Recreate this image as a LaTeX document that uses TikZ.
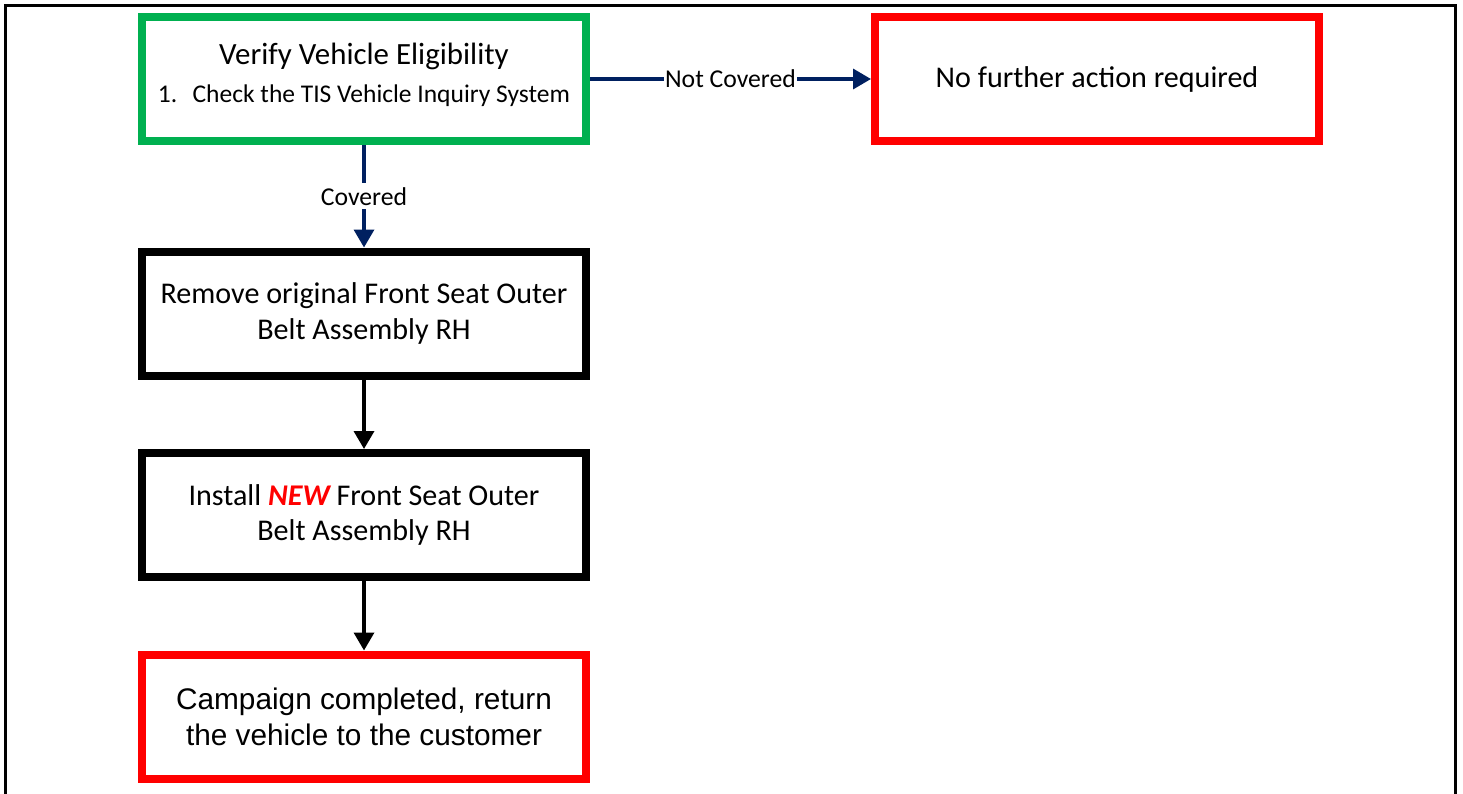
\documentclass[tikz,border=0pt]{standalone}
\usepackage{fontspec}
\setmainfont{Carlito}
\newfontfamily\arialfont{Liberation Sans}
\usetikzlibrary{arrows.meta}
\definecolor{navyc}{RGB}{0,32,96}
\definecolor{greenc}{RGB}{0,176,80}
\definecolor{redc}{RGB}{255,0,0}
\tikzset{
  flowbox/.style={draw, line width=8bp, fill=white, minimum width=444bp, minimum height=124bp, inner sep=0pt, align=center, font=\fontsize{30.2}{36}\selectfont},
  navyarrow/.style={draw=navyc, line width=3.5bp, -{Triangle[length=18bp,width=20bp]}},
  blackarrow/.style={draw=black, line width=3.5bp, -{Triangle[length=18bp,width=20bp]}},
  edgelabel/.style={fill=white, inner xsep=1.5bp, inner ysep=4bp, font=\fontsize{25.8}{30}\selectfont, text=black}
}
\begin{document}
\begin{tikzpicture}[x=1bp,y=-1bp]
\useasboundingbox (0,0) rectangle (1463,793);
\draw[line width=2.5bp] (5.5,800) -- (5.5,5.5) -- (1455.5,5.5) -- (1455.5,800);

\node[flowbox, draw=greenc] (verify) at (364,79) {};
\node[align=center, inner sep=0pt] (verifytxt) at (364,75) {{\fontsize{31}{36}\selectfont Verify Vehicle Eligibility}\\[14bp]{\fontsize{25.6}{30}\selectfont 1.\hspace{0.6em}Check the TIS Vehicle Inquiry System}};

\node[flowbox, draw=redc] (nofurther) at (1097,79) {No further action required};

\node[flowbox, draw=black] (remove) at (364,313.5) {Remove original Front Seat Outer\\Belt Assembly RH};

\node[flowbox, draw=black] (install) at (364,515) {Install {\color{redc}\bfseries\itshape NEW} Front Seat Outer\\Belt Assembly RH};

\node[flowbox, draw=redc, font=\arialfont\fontsize{29.9}{36}\selectfont] (done) at (364,716.5) {Campaign completed, return\\the vehicle to the customer};

\draw[navyarrow] (verify.east) -- node[edgelabel] (nclabel) {Not Covered} (nofurther.west);
\draw[navyarrow] (verify.south) -- node[edgelabel] (clabel) {Covered} (remove.north);
\draw[blackarrow] (remove.south) -- (install.north);
\draw[blackarrow] (install.south) -- (done.north);
\end{tikzpicture}
\end{document}
